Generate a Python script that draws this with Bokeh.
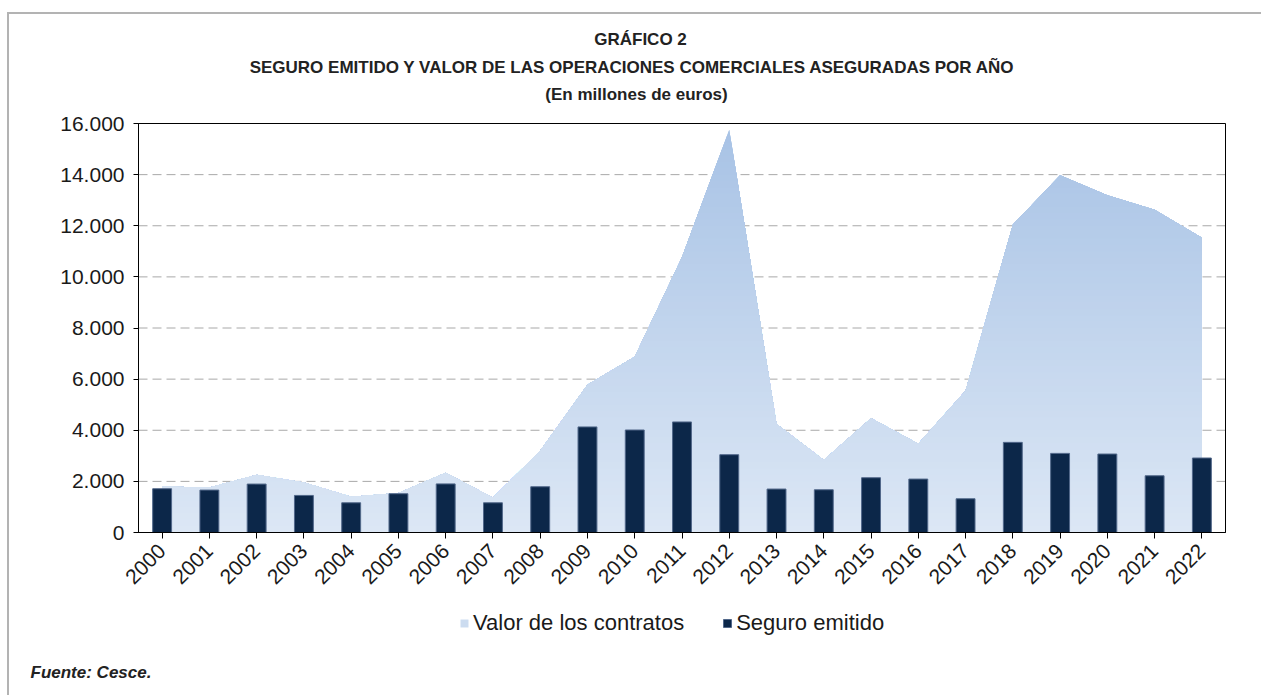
import numpy as np
from bokeh.plotting import figure
from bokeh.models import Range1d, FixedTicker, Legend, LegendItem, Label, BoxAnnotation
from bokeh.embed import file_html
from bokeh.resources import INLINE

# ---------------- data ----------------
years = [str(y) for y in range(2000, 2023)]
valor_contratos = [1800, 1760, 2260, 1960, 1400, 1550, 2340, 1360, 3200, 5780,
                   6880, 10770, 15760, 4245, 2835, 4466, 3470, 5550, 12040, 13975,
                   13190, 12630, 11530]
seguro_emitido = [1712, 1660, 1895, 1450, 1163, 1516, 1900, 1163, 1790, 4130,
                  4010, 4325, 3044, 1700, 1672, 2143, 2090, 1320, 3526, 3095,
                  3070, 2220, 2914]
y_ticks = [0, 2000, 4000, 6000, 8000, 10000, 12000, 14000, 16000]
y_tick_labels = ["0", "2.000", "4.000", "6.000", "8.000", "10.000", "12.000", "14.000", "16.000"]

title_lines = ["GRÁFICO 2",
               "SEGURO EMITIDO Y VALOR DE LAS OPERACIONES COMERCIALES ASEGURADAS POR AÑO",
               "(En millones de euros)"]
source_note = "Fuente: Cesce."
legend_labels = ["Valor de los contratos", "Seguro emitido"]

FONT = "Liberation Sans"
TXT = "#1a1a1a"

# ---------------- layout (page pixels) ----------------
X0, Y0, W, H = 9, 14, 1254, 683           # canvas position / size on the page
PL, PR, PT, PB = 138, 1225, 123, 532      # plot-area box on the page
NX, YMAX = len(years), 16000
sx = NX / (PR - PL)
sy = YMAX / (PB - PT)
x_range = Range1d(0 - (PL - X0) * sx, NX + (X0 + W - PR) * sx)
y_range = Range1d(0 - (Y0 + H - PB) * sy, YMAX + (PT - Y0) * sy)

p = figure(width=W, height=H, x_range=x_range, y_range=y_range,
           output_backend="svg", toolbar_location=None, title_location=None,
           min_border=0)
p.styles = {"margin-left": "7px", "margin-top": "12px",
            "border-top": "2px solid #b3b3b3", "border-left": "2px solid #b3b3b3"}
p.outline_line_color = None
p.xgrid.visible = False
p.ygrid.visible = False

xs = np.arange(NX) + 0.5
vals = np.array(valor_contratos, dtype=float)

# dashed horizontal grid lines limited to the plot box
p.segment(x0=0, x1=NX, y0=y_ticks, y1=y_ticks, line_color="#a8a8a8",
          line_dash="9 5", line_width=1)


def clipped(level):
    px = list(xs)
    for i in range(len(xs) - 1):
        a, b = vals[i], vals[i + 1]
        if (a - level) * (b - level) < 0:
            px.append(xs[i] + (level - a) / (b - a))
    px = np.sort(np.array(px))
    py = np.minimum(np.interp(px, xs, vals), level)
    return px, py


top_rgb = np.array([167, 194, 229])
bot_rgb = np.array([220, 231, 245])
step = 250
legend_area_renderer = None
for hi in np.arange(YMAX, 0, -step):
    t = (hi - step / 2) / YMAX
    c = bot_rgb + (top_rgb - bot_rgb) * t
    col = "#%02x%02x%02x" % tuple(int(round(v)) for v in c)
    px, py = clipped(hi)
    r = p.varea(x=px, y1=np.zeros_like(py), y2=py, fill_color=col)
    if hi == 5000:
        legend_area_renderer = r

bars = p.vbar(x=xs, top=seguro_emitido, width=0.4, fill_color="#0c2749",
              line_color="#52688a", line_width=1)

# plot box
p.add_layout(BoxAnnotation(left=0, right=NX, bottom=0, top=YMAX, fill_alpha=0,
                           fill_color=None, line_color="black", line_alpha=1.0,
                           line_width=1))

# axes fixed at the plot box edges
p.yaxis.fixed_location = 0
p.yaxis.bounds = (0, YMAX)
p.xaxis.fixed_location = 0
p.xaxis.bounds = (0, NX)
p.yaxis.ticker = FixedTicker(ticks=y_ticks)
p.yaxis.major_label_overrides = {t: l for t, l in zip(y_ticks, y_tick_labels)}
p.xaxis.ticker = FixedTicker(ticks=list(xs))
p.xaxis.major_label_overrides = {float(x): y for x, y in zip(xs, years)}
p.xaxis.major_label_orientation = np.pi / 4
for ax in (p.xaxis, p.yaxis):
    ax.axis_line_color = "black"
    ax.axis_line_width = 1
    ax.major_tick_line_color = "black"
    ax.major_tick_in = 0
    ax.major_tick_out = 6
    ax.minor_tick_line_color = None
    ax.major_label_text_font = FONT
    ax.major_label_text_font_size = "21px"
    ax.major_label_text_color = TXT
p.yaxis.major_tick_out = 5
p.yaxis.major_label_standoff = 9
p.xaxis.major_label_standoff = 9

# titles and source note (screen units relative to the canvas bottom-left)
title_centers = [(640, 38.5), (632, 66.5), (636, 94)]
for txt, (cx, cy) in zip(title_lines, title_centers):
    p.add_layout(Label(x=cx - X0, y=Y0 + H - cy, x_units="screen", y_units="screen",
                       text=txt, text_align="center", text_baseline="middle",
                       text_font=FONT, text_font_style="bold", text_font_size="17px",
                       text_color="#222222"))

p.add_layout(Label(x=30 - X0, y=Y0 + H - 672, x_units="screen", y_units="screen",
                   text=source_note, text_align="left", text_baseline="middle",
                   text_font=FONT, text_font_style="bold italic", text_font_size="17px",
                   text_color="#222222"))

legend = Legend(items=[LegendItem(label=legend_labels[0], renderers=[legend_area_renderer]),
                       LegendItem(label=legend_labels[1], renderers=[bars])],
                orientation="horizontal", location=(459 - X0, Y0 + H - 636),
                glyph_width=10, glyph_height=10, label_standoff=4, spacing=38,
                padding=0, margin=0, border_line_color=None, background_fill_alpha=0,
                label_text_font=FONT, label_text_font_size="22px", label_text_color=TXT)
p.add_layout(legend, "center")

open("out.html", "w").write(file_html(p, INLINE))
